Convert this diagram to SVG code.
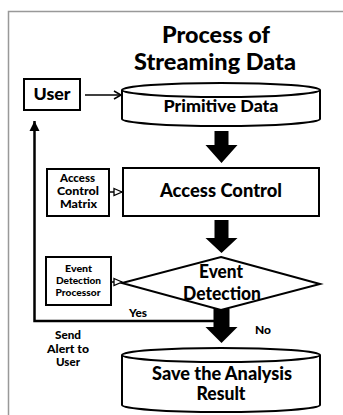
<svg xmlns="http://www.w3.org/2000/svg" width="343" height="415" viewBox="0 0 343 415">
<defs>
<style>
text{font-family:Lato,"Open Sans","Liberation Sans",sans-serif;font-weight:900;fill:#000;text-anchor:middle}
.shape{fill:#fff;stroke:#000;stroke-width:2}
.line{fill:none;stroke:#000}
.block{fill:#000;stroke:none}
</style>
<marker id="open" markerWidth="10" markerHeight="10" refX="8" refY="5" orient="auto" markerUnits="userSpaceOnUse">
<path d="M1,1 L8,5 L1,9" fill="none" stroke="#000" stroke-width="1.5"/>
</marker>
<marker id="hollow" markerWidth="10" markerHeight="10" refX="9" refY="5" orient="auto" markerUnits="userSpaceOnUse">
<path d="M1,1.5 L9,5 L1,8.5 Z" fill="#fff" stroke="#000" stroke-width="1.3"/>
</marker>
<marker id="filled" markerWidth="12" markerHeight="12" refX="10" refY="6" orient="auto" markerUnits="userSpaceOnUse">
<path d="M0,1 L10,6 L0,11 Z" fill="#000"/>
</marker>
</defs>
<rect width="343" height="415" fill="#fff"/>
<path d="M8.5,420 V11.5 H350" fill="none" stroke="#999" stroke-width="1.5"/>

<g id="title">
<text x="216" y="43" font-size="23" textLength="108" lengthAdjust="spacingAndGlyphs">Process of</text>
<text x="215" y="70" font-size="23" textLength="162" lengthAdjust="spacingAndGlyphs">Streaming Data</text>
</g>

<g id="user">
<rect class="shape" x="24" y="79" width="56" height="31"/>
<text x="52" y="100" font-size="16" textLength="37" lengthAdjust="spacingAndGlyphs">User</text>
</g>

<g id="primitive-data">
<path class="shape" d="M122,90 A99,7 0 0 1 320,90 V119 A99,7 0 0 1 122,119 Z"/>
<path class="line" stroke-width="2" d="M122,90 A99,7 0 0 0 320,90"/>
<text x="221" y="112" font-size="16" textLength="115" lengthAdjust="spacingAndGlyphs">Primitive Data</text>
</g>

<g id="access-control">
<rect class="shape" x="123" y="168" width="196" height="48"/>
<text x="221" y="197" font-size="18" textLength="122" lengthAdjust="spacingAndGlyphs">Access Control</text>
</g>

<g id="access-control-matrix">
<rect class="shape" x="47" y="169" width="62" height="47"/>
<text x="77.5" y="182" font-size="10.5" textLength="35" lengthAdjust="spacingAndGlyphs">Access</text>
<text x="78" y="195" font-size="10.5" textLength="42" lengthAdjust="spacingAndGlyphs">Control</text>
<text x="78.5" y="208" font-size="10.5" textLength="37" lengthAdjust="spacingAndGlyphs">Matrix</text>
</g>

<g id="event-detection">
<path class="shape" d="M221,257 L320,284 L221,310 L122,283 Z"/>
<text x="221" y="278" font-size="18" textLength="44" lengthAdjust="spacingAndGlyphs">Event</text>
<text x="222" y="300" font-size="18" textLength="78" lengthAdjust="spacingAndGlyphs">Detection</text>
</g>

<g id="event-detection-processor">
<rect class="shape" x="46" y="257" width="65" height="48"/>
<text x="78.5" y="272" font-size="9.5" textLength="27" lengthAdjust="spacingAndGlyphs">Event</text>
<text x="78.5" y="284" font-size="9.5" textLength="45" lengthAdjust="spacingAndGlyphs">Detection</text>
<text x="78" y="296" font-size="9.5" textLength="45" lengthAdjust="spacingAndGlyphs">Processor</text>
</g>

<g id="save-result">
<path class="shape" d="M122,355 A99,7 0 0 1 320,355 V405 A99,7 0 0 1 122,405 Z"/>
<path class="line" stroke-width="2" d="M122,355 A99,7 0 0 0 320,355"/>
<text x="222" y="380" font-size="18" textLength="140" lengthAdjust="spacingAndGlyphs">Save the Analysis</text>
<text x="221" y="400" font-size="18" textLength="49" lengthAdjust="spacingAndGlyphs">Result</text>
</g>

<g id="connectors">
<line class="line" x1="85" y1="95" x2="121" y2="95" stroke-width="1.5" marker-end="url(#open)"/>
<line class="line" x1="109" y1="192" x2="122" y2="192" stroke-width="1.5" marker-end="url(#hollow)"/>
<line class="line" x1="111" y1="282" x2="122" y2="282" stroke-width="1.5" marker-end="url(#hollow)"/>
<path class="block" d="M214.5,131 H228.5 V145 H237.5 L221.5,163 L205.5,145 H214.5 Z"/>
<path class="block" d="M214.5,220 H228.5 V238 H237.5 L221.5,253 L205.5,238 H214.5 Z"/>
<path class="block" d="M213.5,309 H229.5 V327 H237.5 L221.5,343 L205.5,327 H213.5 Z"/>
<path class="line" stroke-width="2.5" d="M214,321 H34.5 V121" marker-end="url(#filled)"/>
<text x="138" y="317" font-size="10.5" textLength="18" lengthAdjust="spacingAndGlyphs">Yes</text>
<text x="263" y="334" font-size="11" textLength="16" lengthAdjust="spacingAndGlyphs">No</text>
<text x="68" y="339" font-size="11" textLength="26" lengthAdjust="spacingAndGlyphs">Send</text>
<text x="68" y="353" font-size="11" textLength="42" lengthAdjust="spacingAndGlyphs">Alert to</text>
<text x="68" y="366" font-size="11" textLength="24" lengthAdjust="spacingAndGlyphs">User</text>
</g>
</svg>
